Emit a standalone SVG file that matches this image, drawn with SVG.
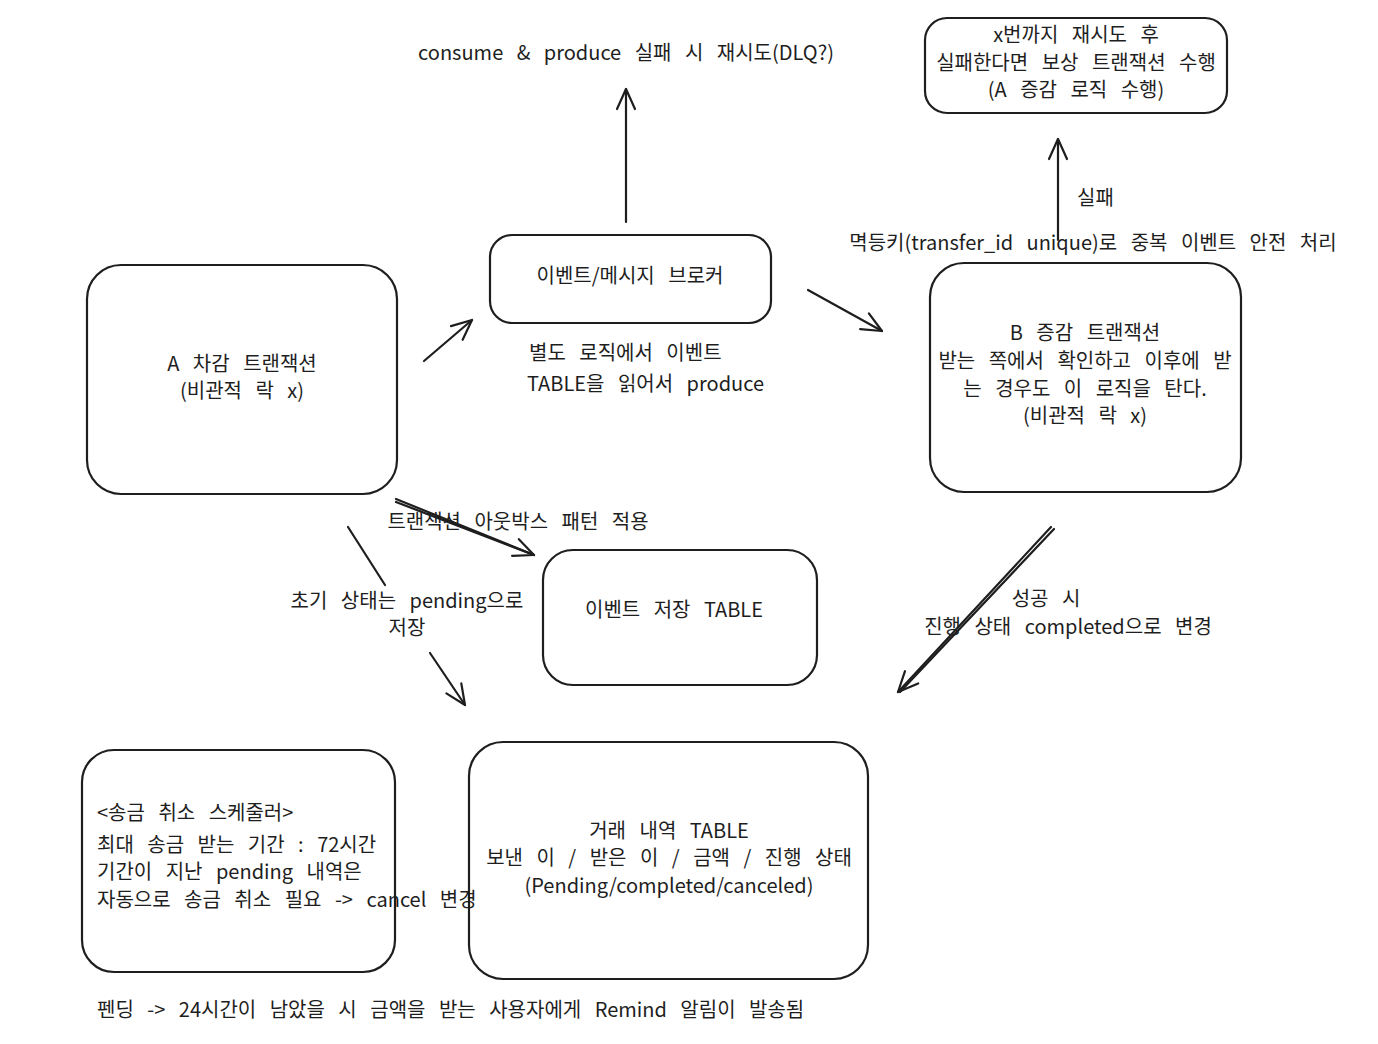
<svg xmlns="http://www.w3.org/2000/svg" width="1378" height="1044" viewBox="0 0 1378 1044">
<defs>
<marker id="arr" viewBox="-22 -12 26 24" refX="0" refY="0" markerWidth="26" markerHeight="24" markerUnits="userSpaceOnUse" orient="auto">
<path d="M -20 -9 L 0 0 L -20 9" fill="none" stroke="#1e1e1e" stroke-width="2.2" stroke-linecap="round" stroke-linejoin="round"/>
</marker>
<style>
.box{fill:#ffffff;stroke:#1e1e1e;stroke-width:2.2}
.ln{fill:none;stroke:#1e1e1e;stroke-width:2.2;stroke-linecap:round}
.t{font-family:"Noto Sans CJK KR","Noto Sans","Liberation Sans",sans-serif;font-size:20px;word-spacing:9px;fill:#1e1e1e}
.c{text-anchor:middle}
</style>
</defs>
<rect width="1378" height="1044" fill="#ffffff"/>

<g id="connectors">
<path class="ln" d="M 424 361 L 472 320" marker-end="url(#arr)"/>
<path class="ln" d="M 626 222 L 626 89" marker-end="url(#arr)"/>
<path class="ln" d="M 808 290 L 882 331" marker-end="url(#arr)"/>
<path class="ln" d="M 1058 240 L 1058 139" marker-end="url(#arr)"/>
<path class="ln" d="M 396 499 L 534 555" marker-end="url(#arr)"/>
<path class="ln" d="M 396 502 L 534 555" stroke-width="1.4"/>
<path class="ln" d="M 348 527 L 385 585"/>
<path class="ln" d="M 430 653 L 465 705" marker-end="url(#arr)"/>
<path class="ln" d="M 1051 527 L 898 692" marker-end="url(#arr)"/>
<path class="ln" d="M 1054 529 L 900 692" stroke-width="1.4"/>
</g>

<g id="label-top">
<text class="t c" x="626" y="60">consume &amp; produce 실패 시 재시도(DLQ?)</text>
</g>

<g id="node-retry">
<rect class="box" x="925" y="18" width="302" height="95" rx="22"/>
<text class="t c" x="1076" y="42">x번까지 재시도 후</text>
<text class="t c" x="1076" y="70">실패한다면 보상 트랜잭션 수행</text>
<text class="t c" x="1076" y="97">(A 증감 로직 수행)</text>
</g>

<g id="label-fail">
<text class="t" x="1077" y="205">실패</text>
</g>
<g id="label-idem">
<text class="t c" x="1093" y="250">멱등키(transfer_id unique)로 중복 이벤트 안전 처리</text>
</g>

<g id="node-broker">
<rect class="box" x="490" y="235" width="281" height="88" rx="22"/>
<text class="t c" x="630" y="283">이벤트/메시지 브로커</text>
</g>
<g id="label-produce">
<text class="t" x="529" y="360">별도 로직에서 이벤트</text>
<text class="t" x="527" y="391">TABLE을 읽어서 produce</text>
</g>

<g id="node-a">
<rect class="box" x="87" y="265" width="310" height="229" rx="34"/>
<text class="t c" x="242" y="371">A 차감 트랜잭션</text>
<text class="t c" x="242" y="398">(비관적 락 x)</text>
</g>

<g id="node-b">
<rect class="box" x="930" y="263" width="311" height="229" rx="34"/>
<text class="t c" x="1085" y="340">B 증감 트랜잭션</text>
<text class="t c" x="1085" y="368">받는 쪽에서 확인하고 이후에 받</text>
<text class="t c" x="1085" y="396">는 경우도 이 로직을 탄다.</text>
<text class="t c" x="1085" y="423">(비관적 락 x)</text>
</g>

<g id="label-outbox">
<text class="t c" x="518" y="529">트랜잭션 아웃박스 패턴 적용</text>
</g>
<g id="label-pending">
<text class="t c" x="407" y="608">초기 상태는 pending으로</text>
<text class="t c" x="407" y="635">저장</text>
</g>

<g id="node-eventtable">
<rect class="box" x="543" y="550" width="274" height="135" rx="30"/>
<text class="t c" x="674" y="617">이벤트 저장 TABLE</text>
</g>

<g id="label-success">
<text class="t c" x="1046" y="606">성공 시</text>
<text class="t c" x="1068" y="634">진행 상태 completed으로 변경</text>
</g>

<g id="node-txtable">
<rect class="box" x="469" y="742" width="399" height="237" rx="34"/>
<text class="t c" x="669" y="838">거래 내역 TABLE</text>
<text class="t c" x="669" y="865">보낸 이 / 받은 이 / 금액 / 진행 상태</text>
<text class="t c" x="669" y="893">(Pending/completed/canceled)</text>
</g>

<g id="node-scheduler">
<rect class="box" x="82" y="750" width="313" height="222" rx="32" style="fill:none"/>
<text class="t" x="97" y="820">&lt;송금 취소 스케줄러&gt;</text>
<text class="t" x="97" y="852">최대 송금 받는 기간 : 72시간</text>
<text class="t" x="97" y="879">기간이 지난 pending 내역은</text>
<text class="t" x="97" y="907">자동으로 송금 취소 필요 -&gt; cancel 변경</text>
</g>

<g id="label-remind">
<text class="t" x="97" y="1017">펜딩 -&gt; 24시간이 남았을 시 금액을 받는 사용자에게 Remind 알림이 발송됨</text>
</g>
</svg>
